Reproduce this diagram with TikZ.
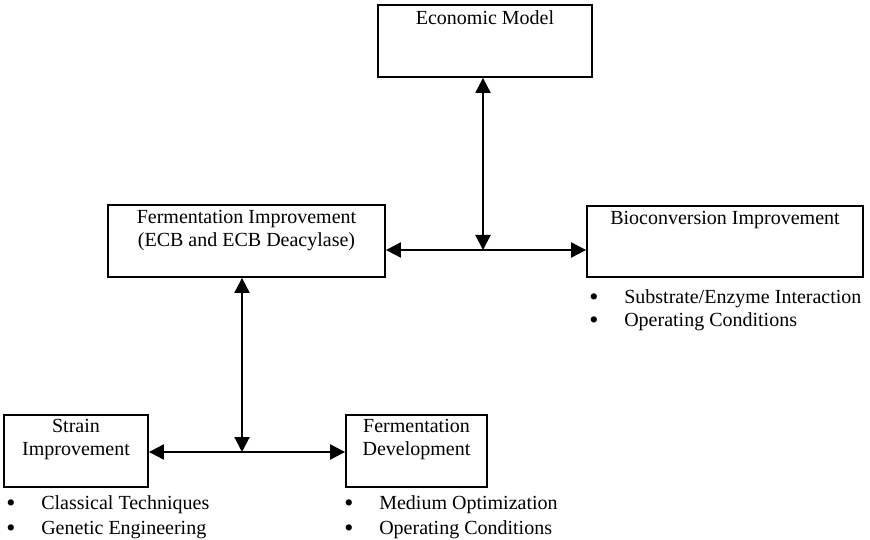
\documentclass[tikz,border=0pt]{standalone}
\usepackage{fontspec}
\setmainfont{Liberation Serif}
\usetikzlibrary{arrows.meta,positioning}
\newcommand{\bulletline}[1]{\makebox[35pt][l]{\raisebox{-2pt}{\scalebox{1.3}{\textbullet}}}#1}

\begin{document}
\begin{tikzpicture}[
    x=1pt, y=1pt,
    box/.style={draw, line width=1.8pt, rectangle, inner sep=0pt},
    heading/.style={align=center, inner sep=0pt, font=\fontsize{20}{23}\selectfont},
    items/.style={align=left, inner sep=0pt, font=\fontsize{20}{25}\selectfont},
    link/.style={{Triangle[width=15pt,length=15pt]}-{Triangle[width=15pt,length=15pt]}, line width=2pt}
]
\useasboundingbox (0,0) rectangle (870,539);

\node (econ) [box, minimum width=214pt, minimum height=72pt] at (485,498) {};
\node (fi) [box, minimum width=277pt, minimum height=72pt] at (246.5,298) {};
\node (bi) [box, minimum width=276pt, minimum height=71pt] at (725,297.5) {};
\node (strain) [box, minimum width=144pt, minimum height=72pt] at (76,88) {};
\node (fd) [box, minimum width=141pt, minimum height=72pt] at (416.5,88) {};

\node (econ-t) [heading, below=6pt of econ.north] {Economic Model};
\node (fi-t) [heading, below=6pt of fi.north] {Fermentation Improvement\\(ECB and ECB Deacylase)};
\node (bi-t) [heading, below=6pt of bi.north] {Bioconversion Improvement};
\node (strain-t) [heading, below=5pt of strain.north] {Strain\\Improvement};
\node (fd-t) [heading, below=5pt of fd.north] {Fermentation\\Development};

\node (strain-l) [items, below right=8pt and 3pt of strain.south west]
    {\bulletline{Classical Techniques}\\\bulletline{Genetic Engineering}};
\node (fd-l) [items, below right=8pt and -1pt of fd.south west]
    {\bulletline{Medium Optimization}\\\bulletline{Operating Conditions}};
\node (bi-l) [items, below right=12pt and 3pt of bi.south west, font=\fontsize{20}{23}\selectfont]
    {\bulletline{Substrate/Enzyme Interaction}\\\bulletline{Operating Conditions}};

\coordinate (upper-joint) at (483,289);
\coordinate (lower-joint) at (242,87);

\draw[link] (econ.south -| upper-joint) -- (upper-joint);
\draw[link] (fi.east |- upper-joint) -- (bi.west |- upper-joint);
\draw[link] (fi.south -| lower-joint) -- (lower-joint);
\draw[link] (strain.east |- lower-joint) -- (fd.west |- lower-joint);

\end{tikzpicture}
\end{document}
